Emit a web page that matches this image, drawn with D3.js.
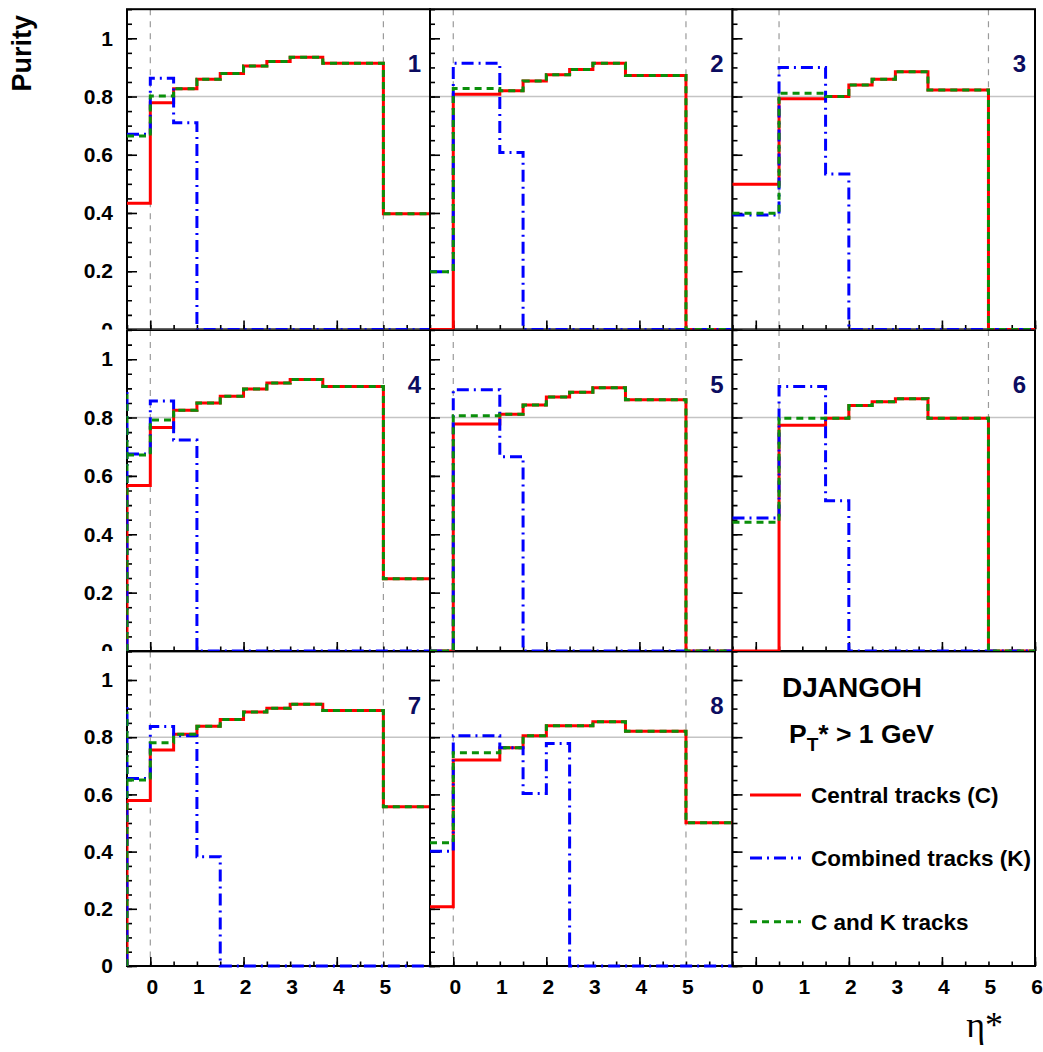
<!DOCTYPE html>
<html><head><meta charset="utf-8">
<script src="https://cdn.jsdelivr.net/npm/d3@7"></script>
<style>body{margin:0;background:#fff}</style></head>
<body>
<script>
// ---------- data ----------
const binEdges = [-0.5, 0, 0.5, 1, 1.5, 2, 2.5, 3, 3.7, 5, 6];
const panelLabels = ["1","2","3","4","5","6","7","8"];
const central = [
  [0.433,0.779,0.827,0.859,0.879,0.905,0.920,0.935,0.914,0.397],
  [0.000,0.808,0.808,0.820,0.853,0.875,0.893,0.914,0.872,0.000],
  [0.499,0.499,0.792,0.792,0.800,0.840,0.859,0.885,0.822,0.000],
  [0.567,0.766,0.825,0.850,0.873,0.898,0.918,0.930,0.906,0.248],
  [0.000,0.778,0.778,0.811,0.843,0.870,0.887,0.902,0.861,0.000],
  [0.000,0.000,0.774,0.774,0.798,0.841,0.854,0.864,0.798,0.000],
  [0.579,0.755,0.810,0.838,0.862,0.888,0.901,0.915,0.893,0.557],
  [0.207,0.720,0.720,0.763,0.805,0.840,0.840,0.854,0.821,0.501]
];
const combined = [
  [0.670,0.863,0.710,0,0,0,0,0,0,0],
  [0.198,0.914,0.914,0.608,0,0,0,0,0,0],
  [0.393,0.393,0.900,0.900,0.534,0,0,0,0,0],
  [0.675,0.857,0.723,0,0,0,0,0,0,0],
  [0.000,0.895,0.895,0.666,0,0,0,0,0,0],
  [0.456,0.456,0.906,0.906,0.515,0,0,0,0,0],
  [0.656,0.837,0.805,0.382,0,0,0,0,0,0],
  [0.401,0.805,0.805,0.763,0.603,0.778,0,0,0,0]
];
const candk = [
  [0.664,0.802,0.827,0.859,0.879,0.905,0.920,0.935,0.914,0.397],
  [0.198,0.828,0.828,0.820,0.853,0.875,0.893,0.914,0.872,0.000],
  [0.399,0.399,0.811,0.811,0.800,0.840,0.859,0.885,0.822,0.000],
  [0.672,0.792,0.825,0.850,0.873,0.898,0.918,0.930,0.906,0.248],
  [0.000,0.806,0.806,0.811,0.843,0.870,0.887,0.902,0.861,0.000],
  [0.441,0.441,0.798,0.798,0.798,0.841,0.854,0.864,0.798,0.000],
  [0.650,0.781,0.810,0.838,0.862,0.888,0.901,0.915,0.893,0.557],
  [0.431,0.746,0.746,0.763,0.805,0.840,0.840,0.854,0.821,0.501]
];
// left-edge vertical (below-range bins) heights: [central, combined, candk]
const edgeSpike = [null,null,null,[0.57,0.89,0.88],null,null,[0.58,0.91,0.89],null];
const cutLow = [0,0,0.5,0,0,0.5,0,0];
const cutHigh = [5,5,5,5,5,5,5,5];
const purityRef = 0.8;
const yMajor = [0,0.2,0.4,0.6,0.8,1.0];
const yTickLabels = ["0","0.2","0.4","0.6","0.8","1"];
const yMinor = d3.range(0,1.1001,0.05);
const xMinor = d3.range(-0.5,6.001,0.5);
const xMajor = [0,2,4,6];
const xLabelsInner = [0,1,2,3,4,5];
const xLabelsLast = [0,1,2,3,4,5,6];
const seriesNames = ["Central tracks (C)","Combined tracks (K)","C and K tracks"];

// ---------- layout ----------
const W=1043,H=1052;
const FONT="'Liberation Sans', Arial, Helvetica, sans-serif";
const colL=[127,430,732.5], colR=[430,732.5,1035];
const rowT=[9.2,330,651.4], rowB=[329.4,651,966];
const padT=[0,329.6,651], padB=[329.6,651,1052];
const styles = [
  {color:"#ff0000", dash:null, w:3},
  {color:"#0000ff", dash:"12,5,2,5", w:3},
  {color:"#0a8f0a", dash:"7,5", w:3}
];

const svg=d3.select("body").append("svg").attr("width",W).attr("height",H)
  .style("font-family",FONT);
const defs=svg.append("defs");
for(let r=0;r<3;r++){
  defs.append("clipPath").attr("id","row"+r).append("rect")
    .attr("x",0).attr("y",padT[r]).attr("width",W).attr("height",padB[r]-padT[r]);
}
const rowG=[0,1,2].map(r=>svg.append("g").attr("clip-path",`url(#row${r})`));

for(let i=0;i<9;i++){
  const c=i%3, r=Math.floor(i/3);
  const g=rowG[r].append("g");
  const x=d3.scaleLinear([-0.5,6],[colL[c],colR[c]]);
  const y=d3.scaleLinear([0,1.1],[rowB[r],rowT[r]]);
  g.append("rect").attr("x",colL[c]).attr("y",rowT[r]).attr("width",colR[c]-colL[c])
    .attr("height",rowB[r]-rowT[r]).attr("fill","#fff");
  defs.append("clipPath").attr("id","fr"+i).append("rect")
    .attr("x",colL[c]-2).attr("y",rowT[r]).attr("width",colR[c]-colL[c]+3).attr("height",rowB[r]-rowT[r]+2);

  if(i<8){
    g.append("line").attr("x1",colL[c]).attr("x2",colR[c]).attr("y1",y(purityRef)).attr("y2",y(purityRef))
      .attr("stroke","#c4c4c4").attr("stroke-width",1.5);
    [cutLow[i],cutHigh[i]].forEach(v=>{
      g.append("line").attr("x1",x(v)).attr("x2",x(v)).attr("y1",rowT[r]).attr("y2",rowB[r])
        .attr("stroke","#9a9a9a").attr("stroke-width",1.2).attr("stroke-dasharray","6,6");
    });
  }
  const ax=g.append("g").attr("transform",`translate(${colL[c]},0)`);
  ax.append("g").call(d3.axisLeft(y).tickValues(yMinor).tickSize(-5).tickFormat(""));
  ax.append("g").call(d3.axisLeft(y).tickValues(yMajor).tickSize(-10).tickPadding(14)
    .tickFormat((d,k)=> c===0 ? yTickLabels[k] : ""));
  const bx=g.append("g").attr("transform",`translate(0,${rowB[r]})`);
  bx.append("g").call(d3.axisBottom(x).tickValues(xMinor).tickSize(-4.5).tickFormat(""));
  bx.append("g").call(d3.axisBottom(x).tickValues(xMajor).tickSize(-9).tickFormat(""));
  if(r===2){
    bx.append("g").attr("class","xl").call(d3.axisBottom(x).tickValues(c===2?xLabelsLast:xLabelsInner)
      .tickSize(0).tickPadding(13).tickFormat(d3.format("d")));
  }
  g.selectAll(".domain").remove();
  g.selectAll(".tick line").attr("stroke","#000").attr("stroke-width",1.6);
  g.selectAll(".tick text").attr("font-family",FONT).attr("font-weight","bold")
    .attr("font-size",21).attr("fill","#000");
  g.selectAll(".xl .tick text").attr("dx",1.5);
  g.append("rect").attr("x",colL[c]).attr("y",rowT[r]).attr("width",colR[c]-colL[c])
    .attr("height",rowB[r]-rowT[r]).attr("fill","none").attr("stroke","#000").attr("stroke-width",2);

  if(i<8){
    const hg=g.append("g").attr("clip-path",`url(#fr${i})`);
    const line=d3.line().x(d=>x(d[0])).y(d=>y(d[1])).curve(d3.curveStepAfter);
    [central[i],combined[i],candk[i]].forEach((vals,s)=>{
      const pts=binEdges.map((e,k)=>[e, k<vals.length?vals[k]:vals[vals.length-1]]);
      const st=styles[s];
      if(edgeSpike[i]){
        hg.append("line").attr("x1",x(-0.5)+0.5).attr("x2",x(-0.5)+0.5)
          .attr("y1",y(0)).attr("y2",y(edgeSpike[i][s]))
          .attr("stroke",st.color).attr("stroke-width",2).attr("stroke-dasharray",st.dash);
      }
      hg.append("path").attr("d",line(pts)).attr("fill","none")
        .attr("stroke",st.color).attr("stroke-width",st.w)
        .attr("stroke-dasharray",st.dash);
    });
    g.append("text").attr("x",colR[c]-9).attr("y",rowT[r]+63).attr("text-anchor","end")
      .attr("font-weight","bold").attr("font-size",24).attr("fill","#0c0c60").text(panelLabels[i]);
  } else {
    g.append("text").attr("x",782).attr("y",697).attr("font-weight","bold").attr("font-size",28)
      .attr("fill","#000").text("DJANGOH");
    const t=g.append("text").attr("x",789).attr("y",743).attr("font-weight","bold").attr("font-size",26.5).attr("fill","#000");
    t.append("tspan").text("P");
    t.append("tspan").attr("font-size",19).attr("dy",8).text("T");
    t.append("tspan").attr("dy",-8).text("* > 1 GeV");
    const ly=[795,858,921.7];
    seriesNames.forEach((nm,s)=>{
      const st=styles[s];
      g.append("line").attr("x1",750).attr("x2",801).attr("y1",ly[s]).attr("y2",ly[s])
        .attr("stroke",st.color).attr("stroke-width",3).attr("stroke-dasharray",st.dash);
      g.append("text").attr("x",811).attr("y",ly[s]+8).attr("font-weight","bold").attr("font-size",22.5)
        .attr("fill","#000").text(nm);
    });
  }
}

svg.append("text").attr("transform","translate(31,15) rotate(-90)").attr("text-anchor","end")
  .attr("font-weight","bold").attr("font-size",27).attr("fill","#000").text("Purity");
svg.append("text").attr("x",1003).attr("y",1037).attr("text-anchor","end")
  .attr("font-family","'Liberation Serif','DejaVu Serif',serif").attr("font-size",36).attr("fill","#000").text("η*");
</script>
</body></html>
